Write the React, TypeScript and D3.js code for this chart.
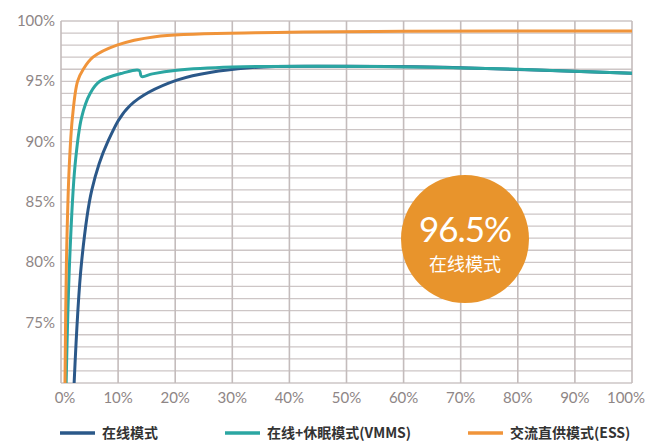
import React, { useEffect, useRef } from 'react';
import * as d3 from 'd3';

// load (%) vs efficiency (%)
const onlineLoad = [2.3, 3.6, 5.4, 8.2, 12.1, 20.3, 33, 50, 70, 100];
const onlineEff = [70, 80, 86, 90, 93, 95.1, 96.12, 96.24, 96.12, 95.66];

const vmmsLoad = [0.9, 1.5, 2.45, 3.6, 5.1, 6.8, 10.8, 13.7, 14.1, 16, 20.3, 30, 45, 65, 80, 100];
const vmmsEff = [70, 80, 88, 92, 94, 95, 95.68, 95.9, 95.4, 95.62, 95.92, 96.18, 96.25, 96.16, 96.0, 95.66];

const essLoad = [0.7, 0.95, 1.45, 2.0, 2.9, 3.9, 5.6, 9.8, 16.5, 34, 60, 100];
const essEff = [70, 80, 88, 92, 95, 96, 97, 98, 98.7, 99.03, 99.15, 99.17];

const xTicks = [0, 10, 20, 30, 40, 50, 60, 70, 80, 90, 100];
const yTicks = [75, 80, 85, 90, 95, 100];

const seriesNames = ['在线模式', '在线+休眠模式(VMMS)', '交流直供模式(ESS)'];
const seriesColors = ['#2b5889', '#2ba6a2', '#f0943a'];

const badgeValue = '96.5%';
const badgeLabel = '在线模式';

export default function App() {
  const svgRef = useRef<SVGSVGElement>(null);

  useEffect(() => {
    if (!svgRef.current) return;
    const svg = d3.select(svgRef.current);
    svg.selectAll('*').remove();

    const left = 61, right = 632, top = 21, bottom = 383;

    const x = d3.scaleLinear().domain([0, 100]).range([left, right]);
    const y = d3.scaleLinear().domain([70, 100]).range([bottom, top]);

    svg.append('rect').attr('width', 658).attr('height', 441).attr('fill', '#fff');

    const grid = svg.append('g');
    // horizontal grid every 1%
    grid.selectAll('line.h')
      .data(d3.range(70, 101, 1))
      .join('line')
      .attr('x1', left).attr('x2', right)
      .attr('y1', d => y(d)).attr('y2', d => y(d))
      .attr('stroke', '#cdc6c6')
      .attr('stroke-width', 1.3);
    // vertical grid every 10%
    grid.selectAll('line.v')
      .data(xTicks)
      .join('line')
      .attr('x1', d => x(d)).attr('x2', d => x(d))
      .attr('y1', top).attr('y2', bottom)
      .attr('stroke', '#c4bcbc')
      .attr('stroke-width', 1.6);

    // y labels
    svg.append('g')
      .selectAll('text')
      .data(yTicks)
      .join('text')
      .attr('x', 55)
      .attr('y', d => y(d) + 5)
      .attr('text-anchor', 'end')
      .attr('fill', '#8e8686')
      .attr('font-family', 'Lato, "Open Sans", sans-serif')
      .attr('font-size', 15)
      .text(d => `${d}%`);

    // x labels
    svg.append('g')
      .selectAll('text')
      .data(xTicks)
      .join('text')
      .attr('x', d => x(d) + (d === 0 ? 4 : d === 100 ? -6 : 0))
      .attr('y', 403)
      .attr('text-anchor', 'middle')
      .attr('fill', '#8e8686')
      .attr('font-family', 'Lato, "Open Sans", sans-serif')
      .attr('font-size', 15)
      .text(d => `${d}%`);

    const line = d3.line<[number, number]>()
      .x(d => x(d[0]))
      .y(d => y(d[1]))
      .curve(d3.curveCatmullRom.alpha(0.5));

    const series: [number, number][][] = [
      onlineLoad.map((v, i) => [v, onlineEff[i]]),
      vmmsLoad.map((v, i) => [v, vmmsEff[i]]),
      essLoad.map((v, i) => [v, essEff[i]]),
    ];

    const clip = svg.append('clipPath').attr('id', 'plotClip');
    clip.append('rect').attr('x', left).attr('y', top - 5).attr('width', right - left).attr('height', bottom - top + 5);

    series.forEach((s, i) => {
      svg.append('path')
        .datum(s)
        .attr('clip-path', 'url(#plotClip)')
        .attr('fill', 'none')
        .attr('stroke', seriesColors[i])
        .attr('stroke-width', 3)
        .attr('stroke-linejoin', 'round')
        .attr('d', line);
    });

    // badge
    const bx = 465, by = 239;
    svg.append('circle').attr('cx', bx).attr('cy', by).attr('r', 64).attr('fill', '#e8942c');
    svg.append('text')
      .attr('x', bx).attr('y', by + 3)
      .attr('text-anchor', 'middle')
      .attr('fill', '#fff')
      .attr('font-family', 'Lato, "Open Sans", sans-serif')
      .attr('font-size', 35)
      .attr('letter-spacing', -1)
      .text(badgeValue);
    svg.append('text')
      .attr('x', bx).attr('y', by + 32)
      .attr('text-anchor', 'middle')
      .attr('fill', '#fff')
      .attr('font-family', '"Noto Sans CJK SC", sans-serif')
      .attr('font-size', 18)
      .text(badgeLabel);

    // legend
    const legendX = [60, 225, 468];
    const legend = svg.append('g');
    seriesNames.forEach((name, i) => {
      const g = legend.append('g').attr('transform', `translate(${legendX[i]},433)`);
      g.append('line')
        .attr('x1', 0).attr('x2', 35)
        .attr('stroke', seriesColors[i])
        .attr('stroke-width', 3.5);
      g.append('text')
        .attr('x', 42).attr('y', 5)
        .attr('fill', '#333')
        .attr('font-family', '"Noto Sans CJK SC", sans-serif')
        .attr('font-weight', 'bold')
        .attr('font-size', 14)
        .text(name);
    });
  }, []);

  return (
    <div style={{ position: 'absolute', left: 0, top: 0 }}>
      <svg ref={svgRef} width={658} height={441} style={{ display: 'block' }} />
    </div>
  );
}
